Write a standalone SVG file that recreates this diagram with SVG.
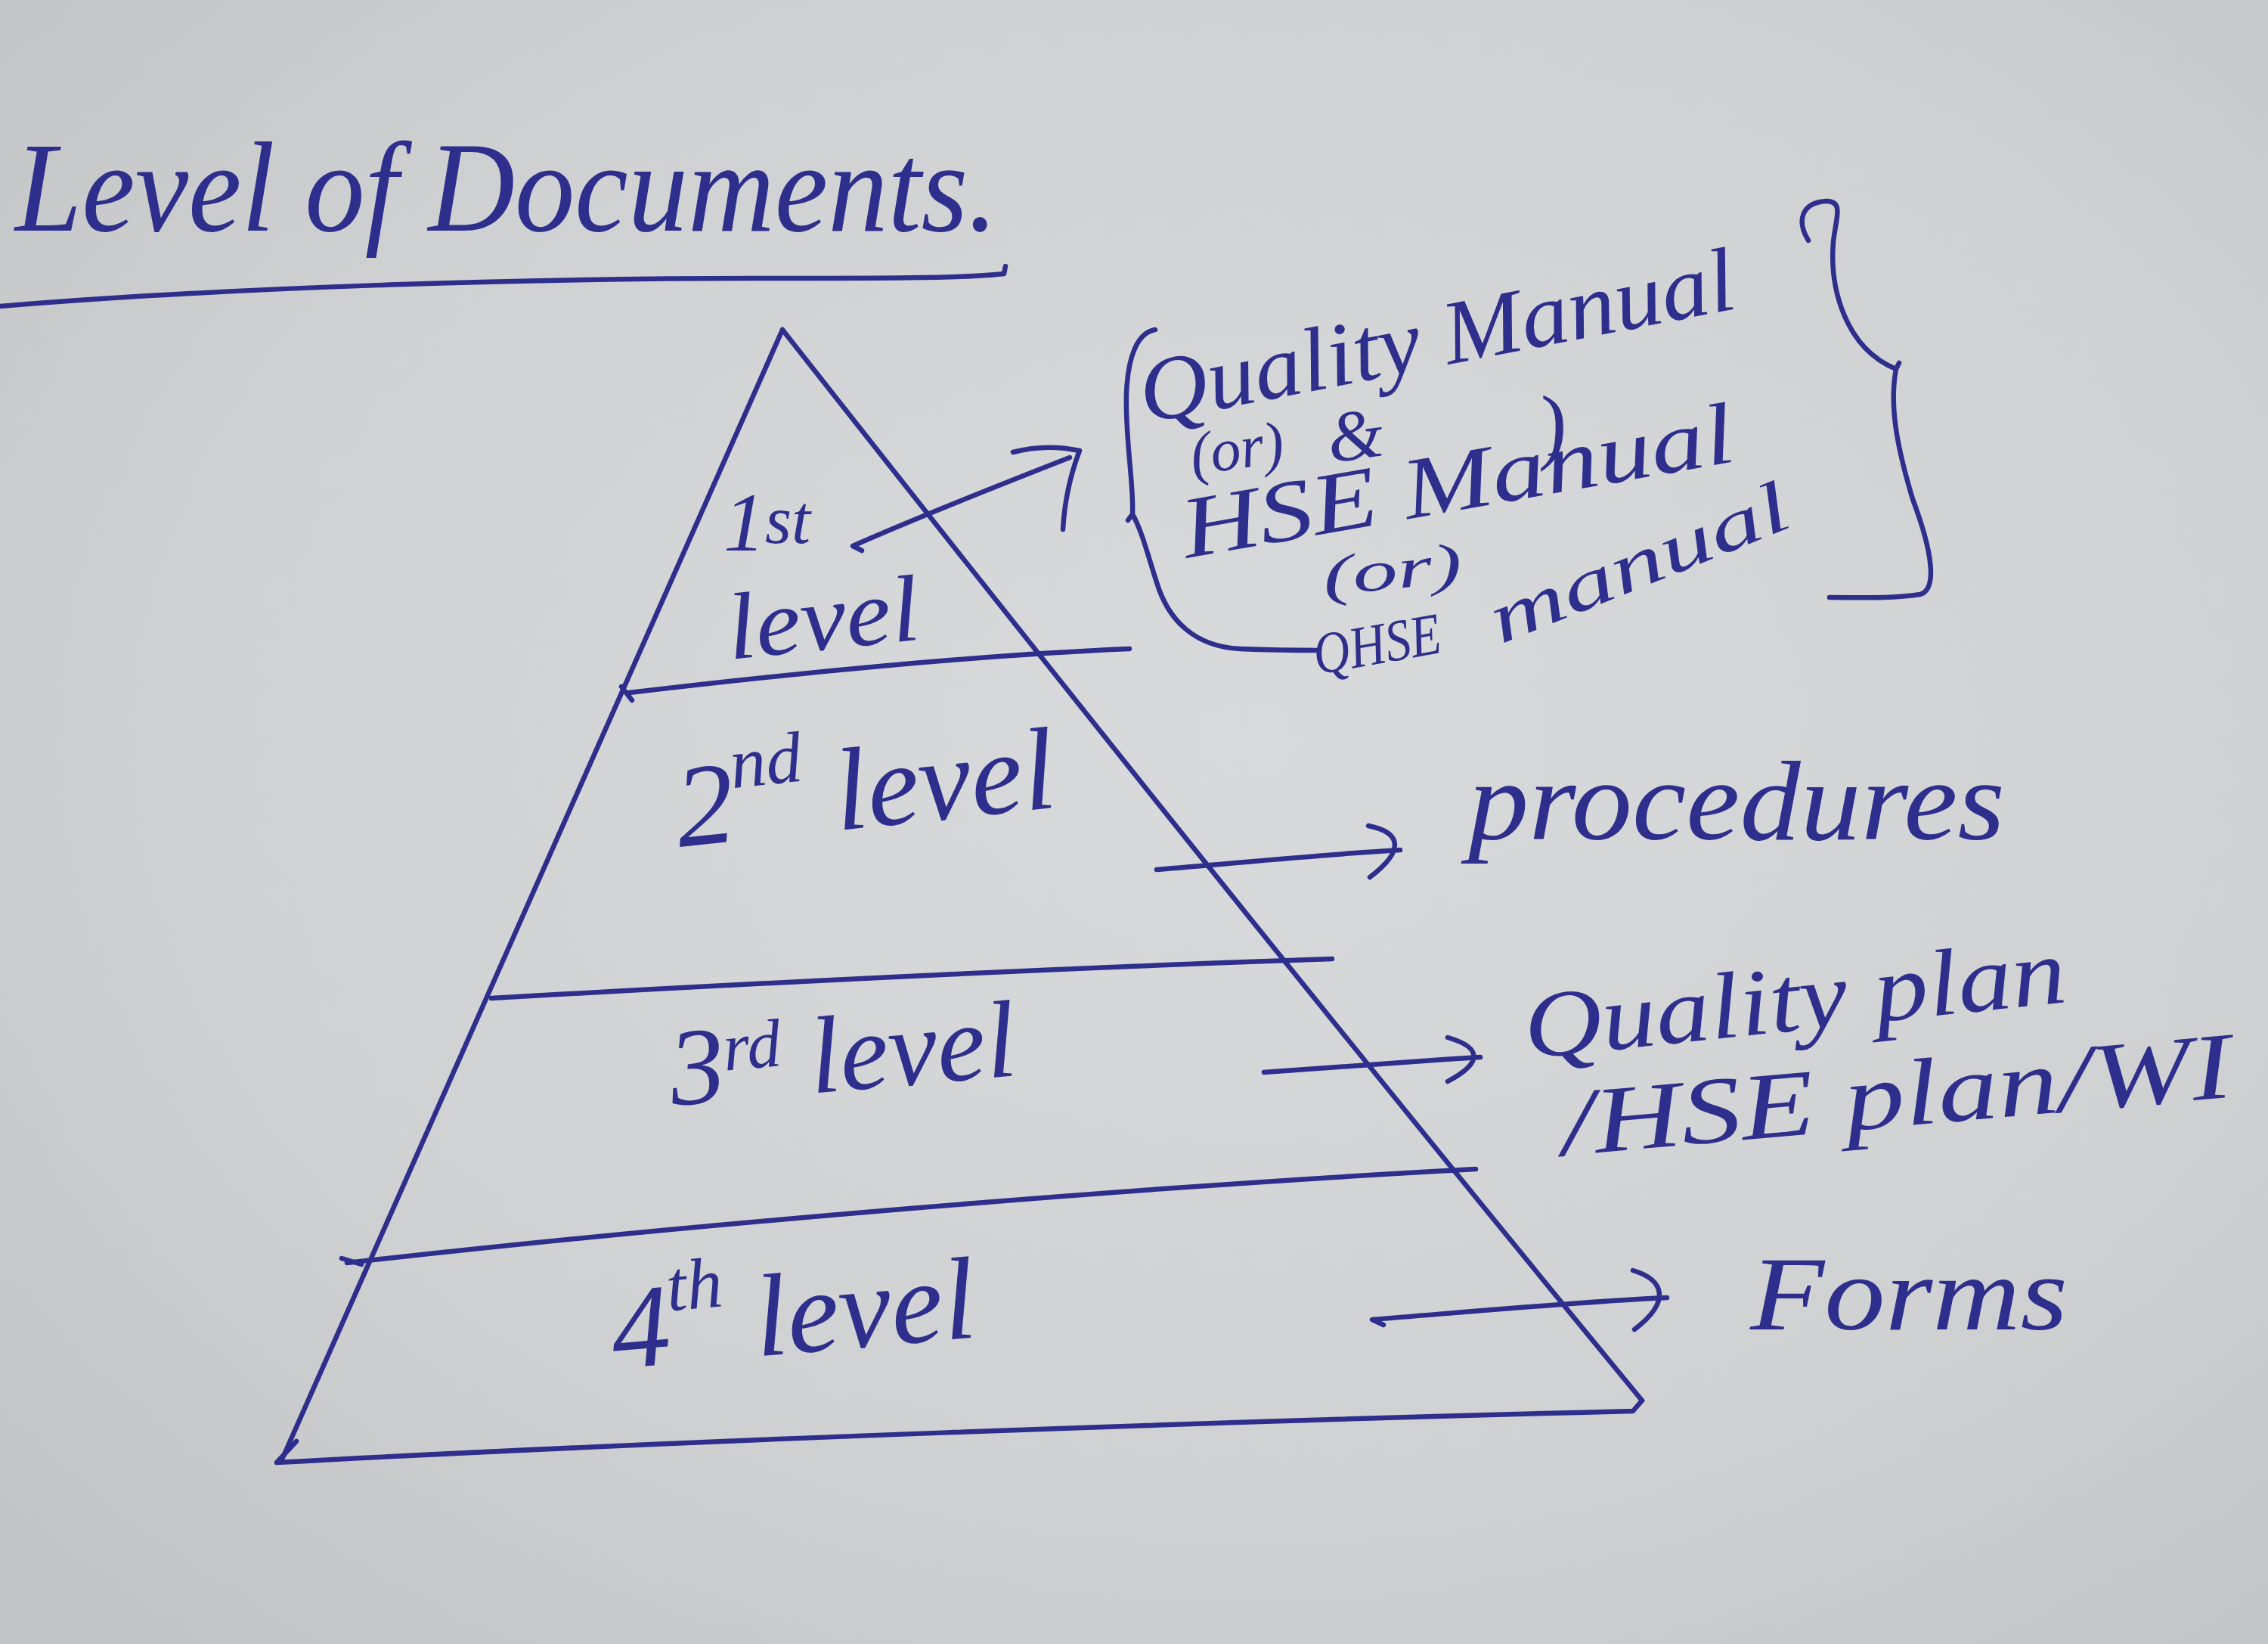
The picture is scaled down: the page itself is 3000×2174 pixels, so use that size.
<svg xmlns="http://www.w3.org/2000/svg" width="3000" height="2174" viewBox="0 0 3000 2174">
  <defs>
    <radialGradient id="paper" cx="0.55" cy="0.45" r="0.75">
      <stop offset="0" stop-color="#d9dadc"/>
      <stop offset="0.6" stop-color="#d0d1d3"/>
      <stop offset="1" stop-color="#c2c3c5"/>
    </radialGradient>
    <style>
      .pen { fill: none; stroke: #2e2f8c; stroke-width: 6.5; stroke-linecap: round; stroke-linejoin: round; }
      .hw { font-family: "Liberation Serif", "DejaVu Serif", serif; font-style: italic; fill: #2e2f8c; }
    </style>
  </defs>

  <rect x="0" y="0" width="3000" height="2174" fill="url(#paper)"/>

  <!-- Title -->
  <g id="title">
    <text class="hw" x="20" y="305" font-size="170" textLength="1300" lengthAdjust="spacingAndGlyphs">Level of Documents.</text>
    <path class="pen" d="M0 405 C300 380 700 368 1000 368 C1150 368 1280 368 1328 362 L1330 352"/>
  </g>

  <!-- Pyramid outline -->
  <g id="pyramid">
    <path class="pen" d="M1035 436 L373 1930"/>
    <path class="pen" d="M1035 436 C1400 900 1800 1400 2172 1852"/>
    <path class="pen" d="M2172 1852 L2160 1866 C1600 1880 900 1905 366 1934 L392 1906"/>
    <path class="pen" d="M832 916 C1050 890 1300 866 1494 858"/>
    <path class="pen" d="M650 1320 C1000 1300 1400 1280 1762 1268"/>
    <path class="pen" d="M459 1670 C900 1620 1500 1570 1952 1546"/>
    <path class="pen" d="M822 908 L836 926"/>
    <path class="pen" d="M452 1664 L478 1672"/>
  </g>

  <!-- Level labels -->
  <g id="level1">
    <text class="hw" x="957" y="728" font-size="110">1<tspan font-size="90" dy="-10">st</tspan></text>
    <text class="hw" x="966" y="872" font-size="125" textLength="255" lengthAdjust="spacingAndGlyphs" transform="rotate(-6 966 872)">level</text>
  </g>
  <g id="level2">
    <text class="hw" x="899" y="1120" font-size="155" transform="rotate(-6 899 1120)">2<tspan font-size="95" dy="-70">nd</tspan><tspan dy="70"> level</tspan></text>
  </g>
  <g id="level3">
    <text class="hw" x="890" y="1462" font-size="145" transform="rotate(-5 890 1462)">3<tspan font-size="90" dy="-40">rd</tspan><tspan dy="40"> level</tspan></text>
  </g>
  <g id="level4">
    <text class="hw" x="813" y="1810" font-size="155" transform="rotate(-5 813 1810)">4<tspan font-size="95" dy="-70">th</tspan><tspan dy="70"> level</tspan></text>
  </g>

  <!-- Document labels -->
  <g id="manuals">
    <text class="hw" x="1515" y="560" font-size="120" textLength="800" lengthAdjust="spacingAndGlyphs" transform="rotate(-11 1515 560)">Quality Manual</text>
    <text class="hw" x="1578" y="628" font-size="80" transform="rotate(-8 1578 628)">(or)</text>
    <text class="hw" x="1760" y="612" font-size="95" transform="rotate(-8 1760 612)">&amp;</text>
    <text class="hw" x="2040" y="600" font-size="110" transform="rotate(-8 2040 600)">)</text>
    <text class="hw" x="1570" y="738" font-size="115" textLength="740" lengthAdjust="spacingAndGlyphs" transform="rotate(-10 1570 738)">HSE Manual</text>
    <text class="hw" x="1752" y="788" font-size="75" textLength="185" lengthAdjust="spacingAndGlyphs" transform="rotate(-6 1752 788)">(or)</text>
    <text class="hw" x="1742" y="892" font-size="78" textLength="170" lengthAdjust="spacingAndGlyphs" transform="rotate(-10 1742 892)">QHSE</text>
    <text class="hw" x="1985" y="852" font-size="95" textLength="420" lengthAdjust="spacingAndGlyphs" transform="rotate(-22 1985 852)">manual</text>
    <path class="pen" d="M1528 436 C1505 440 1492 470 1490 520 C1488 580 1500 640 1498 680 L1492 688 M1498 680 C1510 700 1520 740 1530 770 C1545 820 1580 855 1640 858 C1690 860 1720 860 1745 860"/>
    <path class="pen" d="M2392 318 C2375 290 2385 268 2415 266 C2440 265 2428 290 2425 320 C2420 380 2440 460 2508 488 L2512 480 M2508 488 C2498 540 2512 600 2530 660 C2560 740 2560 780 2540 786 C2500 792 2460 790 2420 790"/>
  </g>
  <g id="procedures">
    <text class="hw" x="1942" y="1110" font-size="150" textLength="710" lengthAdjust="spacingAndGlyphs">procedures</text>
  </g>
  <g id="quality-plan">
    <text class="hw" x="2020" y="1400" font-size="125" textLength="720" lengthAdjust="spacingAndGlyphs" transform="rotate(-6 2020 1400)">Quality plan</text>
    <text class="hw" x="2068" y="1528" font-size="125" textLength="890" lengthAdjust="spacingAndGlyphs" transform="rotate(-5 2068 1528)">/HSE plan/WI</text>
  </g>
  <g id="forms">
    <text class="hw" x="2315" y="1758" font-size="140" textLength="420" lengthAdjust="spacingAndGlyphs">Forms</text>
  </g>

  <!-- Connectors -->
  <g id="connectors">
    <path class="pen" d="M1140 728 L1128 722 C1200 690 1300 650 1415 605"/>
    <path class="pen" d="M1340 598 C1370 590 1400 590 1428 596 C1415 630 1408 665 1406 700"/>
    <path class="pen" d="M1530 1150 C1650 1140 1750 1130 1852 1124"/>
    <path class="pen" d="M1810 1092 C1850 1100 1862 1122 1812 1160"/>
    <path class="pen" d="M1672 1418 C1760 1412 1860 1404 1958 1398"/>
    <path class="pen" d="M1915 1372 C1960 1385 1962 1405 1915 1430"/>
    <path class="pen" d="M1830 1752 L1815 1745 C1940 1735 2080 1722 2205 1716"/>
    <path class="pen" d="M2160 1680 C2200 1692 2212 1720 2162 1758"/>
  </g>
</svg>
